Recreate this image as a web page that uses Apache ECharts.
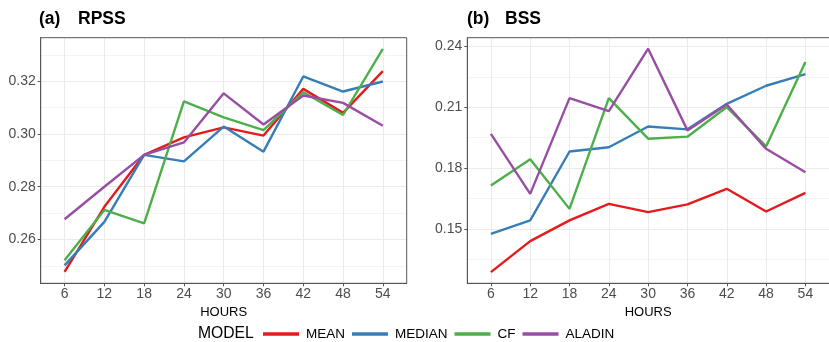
<!DOCTYPE html>
<html>
<head>
<meta charset="utf-8">
<script src="https://cdn.jsdelivr.net/npm/echarts@6/dist/echarts.min.js"></script>
<style>
  html, body { margin: 0; padding: 0; background: #ffffff; }
  #chart { width: 829px; height: 342px; }
</style>
</head>
<body>
<div id="chart"></div>
<script>
// Forecast lead times (hours)
const hours = [6, 12, 18, 24, 30, 36, 42, 48, 54];
const models = ['MEAN', 'MEDIAN', 'CF', 'ALADIN'];
const colors = ['#E41A1C', '#377EB8', '#4DAF4A', '#984EA3'];

// (a) RPSS
const rpssMean   = [0.2477, 0.2724, 0.2921, 0.2987, 0.3025, 0.2994, 0.3171, 0.3080, 0.3238];
const rpssMedian = [0.2502, 0.2667, 0.2921, 0.2896, 0.3028, 0.2933, 0.3218, 0.3161, 0.3199];
const rpssCF     = [0.2521, 0.2712, 0.2661, 0.3124, 0.3063, 0.3015, 0.3158, 0.3072, 0.3323];
const rpssAladin = [0.2677, 0.2800, 0.2921, 0.2968, 0.3154, 0.3036, 0.3146, 0.3118, 0.3031];

// (b) BSS
const bssMean   = [0.1287, 0.1440, 0.1542, 0.1624, 0.1583, 0.1621, 0.1698, 0.1586, 0.1678];
const bssMedian = [0.1476, 0.1542, 0.1882, 0.1903, 0.2005, 0.1991, 0.2117, 0.2206, 0.2263];
const bssCF     = [0.1714, 0.1844, 0.1599, 0.2145, 0.1945, 0.1955, 0.2101, 0.1907, 0.2323];
const bssAladin = [0.1969, 0.1673, 0.2145, 0.2081, 0.2389, 0.1986, 0.2114, 0.1895, 0.1780];

// Axis ticks
const rpssTicks = [0.26, 0.28, 0.30, 0.32];
const rpssMinor = [0.25, 0.27, 0.29, 0.31, 0.33];
const bssTicks = [0.15, 0.18, 0.21, 0.24];
const bssMinor = [0.135, 0.165, 0.195, 0.225];

const rpssSeries = [rpssMean, rpssMedian, rpssCF, rpssAladin];
const bssSeries = [bssMean, bssMedian, bssCF, bssAladin];

const FONT = '"Liberation Sans", Arial, sans-serif';
const GRID_W = 366, GRID_H = 245.6, GRID_TOP = 37.7;
const grids = [
  { left: 40.7, top: GRID_TOP, width: GRID_W, height: GRID_H },
  { left: 467.3, top: GRID_TOP, width: GRID_W, height: GRID_H }
];

function xAxisFor(gi) {
  return {
    type: 'value', gridIndex: gi, min: 2.4, max: 57.6,
    name: 'HOURS', nameLocation: 'middle', nameGap: 21,
    nameTextStyle: { color: '#000', fontSize: 13, fontFamily: FONT },
    axisLine: { show: true, onZero: false, lineStyle: { color: '#555', width: 1 } },
    axisTick: { show: true, length: 3, customValues: hours, lineStyle: { color: '#555' } },
    axisLabel: { customValues: hours, color: '#4d4d4d', fontSize: 14, fontFamily: FONT, margin: 4 },
    splitLine: { show: true, lineStyle: { color: '#ebebeb', width: 1 } }
  };
}

function yAxesFor(gi, min, max, ticks, minor, fmt) {
  return [
    {
      type: 'value', gridIndex: gi, min: min, max: max,
      axisLine: { show: true, onZero: false, lineStyle: { color: '#555', width: 1 } },
      axisTick: { show: true, length: 3, customValues: ticks, lineStyle: { color: '#555' } },
      axisLabel: { customValues: ticks, color: '#4d4d4d', fontSize: 14, fontFamily: FONT, margin: 5,
                   formatter: v => v.toFixed(fmt) },
      splitLine: { show: true, lineStyle: { color: '#ebebeb', width: 1 } }
    },
    {
      type: 'value', gridIndex: gi, min: min, max: max, position: 'left',
      axisLine: { show: false }, axisLabel: { show: false },
      axisTick: { show: false, customValues: minor },
      splitLine: { show: true, lineStyle: { color: '#f4f4f4', width: 1 } }
    }
  ];
}

const series = [];
models.forEach((m, i) => {
  series.push({
    name: m, type: 'line', xAxisIndex: 0, yAxisIndex: 0,
    data: hours.map((h, k) => [h, rpssSeries[i][k]]),
    symbol: 'none', lineStyle: { color: colors[i], width: 2.4 }, itemStyle: { color: colors[i] },
    z: 3 + i
  });
  series.push({
    name: m, type: 'line', xAxisIndex: 1, yAxisIndex: 2,
    data: hours.map((h, k) => [h, bssSeries[i][k]]),
    symbol: 'none', lineStyle: { color: colors[i], width: 2.4 }, itemStyle: { color: colors[i] },
    z: 3 + i
  });
});

const chart = echarts.init(document.getElementById('chart'), null, { renderer: 'canvas' });
chart.setOption({
  animation: false,
  backgroundColor: '#ffffff',
  title: [
    { text: '(a)', left: 39, top: 10, padding: 0, textStyle: { fontSize: 17.5, fontWeight: 'bold', color: '#000', fontFamily: FONT } },
    { text: 'RPSS', left: 78, top: 10, padding: 0, textStyle: { fontSize: 17.5, fontWeight: 'bold', color: '#000', fontFamily: FONT } },
    { text: '(b)', left: 467, top: 10, padding: 0, textStyle: { fontSize: 17.5, fontWeight: 'bold', color: '#000', fontFamily: FONT } },
    { text: 'BSS', left: 505, top: 10, padding: 0, textStyle: { fontSize: 17.5, fontWeight: 'bold', color: '#000', fontFamily: FONT } }
  ],
  legend: {
    data: models, left: 263, top: 327, padding: 0,
    icon: 'rect', itemWidth: 36, itemHeight: 3.5, itemGap: 7,
    textStyle: { color: '#000', fontSize: 13.5, fontFamily: FONT, padding: [0, 0, 0, 2] }
  },
  graphic: [
    { type: 'text', left: 198, top: 326, style: { text: 'MODEL', fontSize: 15.7, fill: '#000', fontFamily: FONT } },
    { type: 'rect', shape: { x: 40.7, y: GRID_TOP, width: GRID_W, height: GRID_H }, style: { fill: 'none', stroke: '#555', lineWidth: 1 }, z: 10, silent: true },
    { type: 'rect', shape: { x: 467.3, y: GRID_TOP, width: GRID_W, height: GRID_H }, style: { fill: 'none', stroke: '#555', lineWidth: 1 }, z: 10, silent: true }
  ],
  grid: grids,
  xAxis: [xAxisFor(0), xAxisFor(1)],
  yAxis: [
    ...yAxesFor(0, 0.2434, 0.3365, rpssTicks, rpssMinor, 2),
    ...yAxesFor(1, 0.1232, 0.2443, bssTicks, bssMinor, 2)
  ],
  series: series
});
</script>
</body>
</html>
